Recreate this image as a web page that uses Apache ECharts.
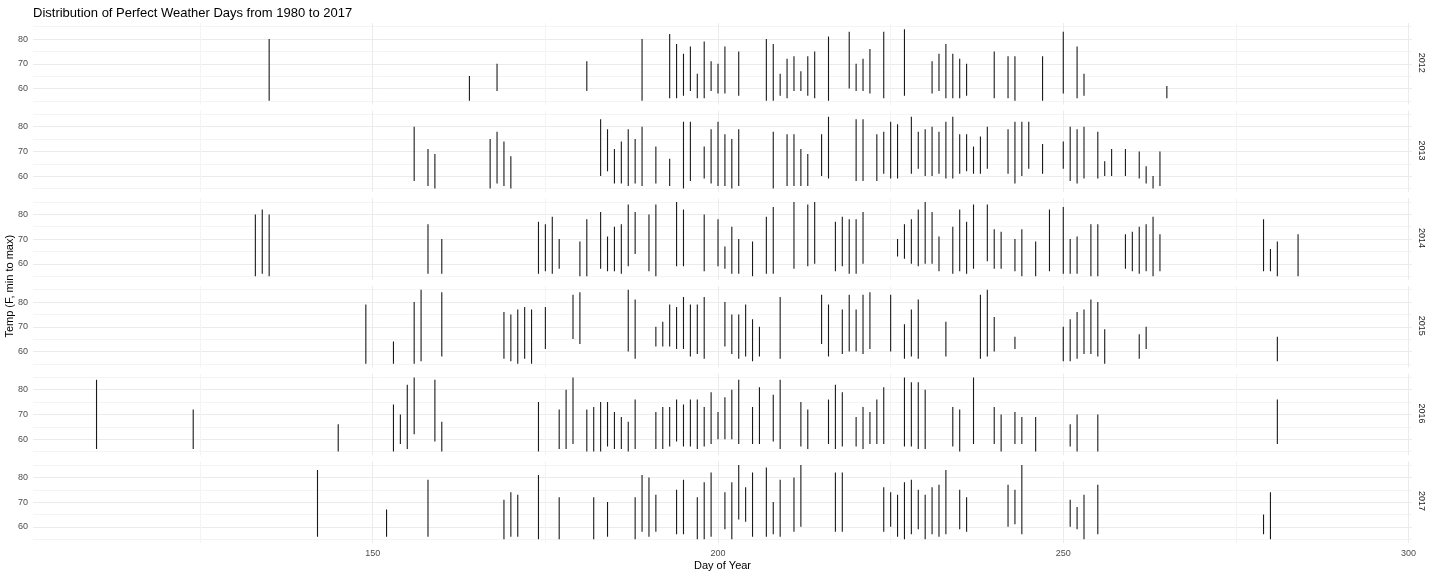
<!DOCTYPE html>
<html>
<head>
<meta charset="utf-8">
<script src="https://cdn.jsdelivr.net/npm/echarts@6/dist/echarts.min.js"></script>
<style>
html,body{margin:0;padding:0;background:#fff;}
#chart{width:1440px;height:576px;}
</style>
</head>
<body>
<div id="chart"></div>
<script>
// ---------- DATA ----------
const years = ['2012', '2013', '2014', '2015', '2016', '2017'];
const xTicks = [150, 200, 250, 300];
const yTicks = [60, 70, 80];

const days2012 = [135,164,168,181,189,193,194,195,196,197,198,199,200,201,203,207,208,209,210,211,212,213,214,216,219,220,221,222,224,227,231,232,233,234,235,236,240,242,243,247,250,252,253,265];
const min2012  = [55,55,59,59,55,56,56,57,59,56,56,59,58,58,57,55,55,57,56,59,59,57,56,55,60,59,59,58,56,57,58,59,56,56,56,57,56,56,55,55,58,56,57,56];
const max2012  = [80,65,70,71,80,82,78,74,77,66,79,71,70,77,75,80,78,66,72,73,67,73,75,81,83,70,72,76,83,84,71,74,78,74,72,70,75,73,73,73,83,77,66,61];

const days2013 = [156,158,159,167,168,169,170,183,184,185,186,187,188,189,191,193,195,196,198,199,200,201,202,203,208,210,211,212,213,215,216,220,221,223,224,225,226,228,229,230,231,232,233,234,235,236,237,238,239,242,243,244,245,247,250,251,252,253,255,256,257,259,261,262,263,264];
const min2013  = [58,56,55,55,57,56,55,60,62,57,57,56,57,56,57,56,55,58,59,57,56,56,55,56,55,56,56,56,56,60,59,58,58,58,61,59,59,61,63,60,60,61,59,59,61,62,61,61,63,61,57,60,63,61,63,58,57,59,59,60,60,60,59,57,55,56];
const max2013  = [80,71,69,75,78,74,68,83,79,71,74,79,75,80,72,67,82,82,72,79,82,77,75,79,78,77,77,71,69,77,84,83,83,77,78,82,81,84,78,79,80,78,82,84,77,77,72,76,80,79,82,82,82,73,74,80,79,80,78,66,71,71,70,64,60,70];

const days2014 = [133,134,135,158,160,174,175,176,177,180,181,183,184,185,186,187,188,190,191,194,195,198,200,201,202,203,205,207,208,211,213,214,217,218,219,220,221,226,227,228,229,230,231,232,234,235,236,237,239,240,241,243,244,246,248,250,251,252,254,255,259,260,261,262,263,264,279,280,281,284];
const min2014  = [55,56,55,56,56,56,57,56,58,55,55,58,57,57,56,59,64,57,55,59,59,57,59,58,56,56,55,56,56,58,59,60,57,59,56,56,60,63,62,60,59,60,60,57,56,57,56,58,61,58,58,57,55,55,57,56,56,56,55,55,58,57,56,57,55,57,57,57,55,55];
const max2014  = [80,82,80,76,70,77,76,79,70,69,78,81,71,75,76,84,81,80,84,85,82,80,78,67,75,70,69,79,83,85,84,85,77,79,78,78,81,70,76,78,82,85,81,71,75,82,77,84,84,74,73,70,74,69,82,83,70,71,76,76,72,73,75,76,79,72,78,66,69,72];

const days2015 = [149,153,156,157,160,169,170,171,172,173,175,179,180,187,188,191,192,193,194,195,196,197,198,201,202,203,204,205,206,209,215,216,218,219,220,221,222,225,227,228,229,233,238,239,240,243,250,251,252,253,254,255,256,261,262,281];
const min2015  = [55,55,55,56,58,57,56,55,57,55,61,65,63,60,57,62,62,62,61,61,58,59,57,62,59,57,58,56,58,57,63,58,59,60,60,59,61,60,57,58,57,58,57,58,60,61,56,56,57,59,59,58,55,57,61,56];
const max2015  = [79,64,80,85,84,76,75,77,78,77,78,83,84,85,81,70,72,79,78,82,79,79,82,80,75,75,79,73,70,82,83,79,77,83,77,83,84,83,71,77,81,72,83,85,74,66,70,73,76,77,81,80,69,67,70,66];

const days2016 = [110,124,145,153,154,155,156,159,160,174,177,178,179,181,182,183,184,185,186,187,188,191,192,193,194,195,196,197,198,199,200,201,202,203,205,206,208,209,212,213,216,217,218,220,221,222,223,224,227,228,229,230,234,235,237,240,241,243,244,246,251,252,255,281];
const min2016  = [56,56,55,55,58,56,62,59,55,55,56,56,58,55,55,55,57,56,56,55,56,56,56,57,59,57,57,56,57,58,60,60,60,58,58,58,59,56,57,56,58,56,57,57,56,58,58,58,57,57,56,56,57,55,58,58,55,58,58,55,57,55,55,58];
const max2016  = [84,72,66,74,70,82,85,84,67,75,72,80,85,72,73,75,75,71,69,67,76,71,73,73,76,74,76,76,73,79,71,77,80,84,73,81,78,84,75,72,76,82,79,69,73,71,76,81,85,83,83,80,73,72,85,73,70,71,69,69,66,70,70,76];

const days2017 = [142,152,158,169,170,171,174,177,182,184,188,189,190,191,194,195,197,198,199,201,202,203,204,205,207,208,209,211,212,217,218,224,225,226,227,228,229,230,231,232,233,235,236,242,243,244,251,252,253,255,279,280];
const min2017  = [56,56,56,55,56,56,55,55,55,56,55,58,56,58,57,57,55,55,56,59,55,63,62,56,56,57,56,58,60,58,58,58,60,56,55,57,59,55,57,56,57,59,58,60,61,57,60,59,55,57,57,55];
const max2017  = [83,67,79,71,74,73,81,72,72,70,72,81,80,73,75,79,72,78,82,74,78,85,76,82,84,70,79,80,85,82,82,76,74,73,78,79,75,73,76,77,83,75,72,77,75,85,71,68,73,77,65,74];

const yearDays = [days2012, days2013, days2014, days2015, days2016, days2017];
const yearMins = [min2012, min2013, min2014, min2015, min2016, min2017];
const yearMaxs = [max2012, max2013, max2014, max2015, max2016, max2017];

// ---------- LAYOUT ----------
const FONT = '"Liberation Sans", Arial, Helvetica, sans-serif';
const GRID_LEFT = 33, GRID_RIGHT = 28;
const PANEL_TOP = 23, PANEL_H = 81.5, PANEL_PITCH = 87.67;
const X_MIN = 100.8, X_MAX = 300.5;
const Y_MIN = 53.5, Y_MAX = 86.5;

const chart = echarts.init(document.getElementById('chart'), null, {renderer: 'canvas'});

const grids = [], xAxes = [], yAxes = [], series = [], graphics = [];

years.forEach((yr, k) => {
  const top = PANEL_TOP + k * PANEL_PITCH;
  const isLast = k === years.length - 1;
  grids.push({left: GRID_LEFT, right: GRID_RIGHT, top: top, height: PANEL_H, containLabel: false});
  xAxes.push({
    type: 'value', gridIndex: k, min: X_MIN, max: X_MAX, splitNumber: 4,
    axisLine: {show: false}, axisTick: {show: false},
    axisLabel: {
      show: isLast, color: '#4d4d4d', fontSize: 9, fontFamily: FONT, margin: 6,
      showMinLabel: false, showMaxLabel: false,
      formatter: v => (xTicks.indexOf(Math.round(v * 1000) / 1000) >= 0 ? String(v) : '')
    },
    splitLine: {show: true, showMinLine: false, showMaxLine: false, lineStyle: {color: '#ebebeb', width: 1}},
    minorTick: {show: false, splitNumber: 2},
    minorSplitLine: {show: true, lineStyle: {color: '#f4f4f4', width: 1}},
    name: isLast ? 'Day of Year' : '', nameLocation: 'middle', nameGap: 18,
    nameTextStyle: {color: '#000', fontSize: 11, fontFamily: FONT}
  });
  yAxes.push({
    type: 'value', gridIndex: k, min: Y_MIN, max: Y_MAX, splitNumber: 3,
    axisLine: {show: false}, axisTick: {show: false},
    axisLabel: {
      color: '#4d4d4d', fontSize: 9, fontFamily: FONT, margin: 5,
      showMinLabel: false, showMaxLabel: false,
      formatter: v => (yTicks.indexOf(Math.round(v * 1000) / 1000) >= 0 ? String(v) : '')
    },
    splitLine: {show: true, showMinLine: false, showMaxLine: false, lineStyle: {color: '#ebebeb', width: 1}},
    minorTick: {show: false, splitNumber: 2},
    minorSplitLine: {show: true, lineStyle: {color: '#f4f4f4', width: 1}}
  });
  const data = yearDays[k].map((d, i) => [d, yearMins[k][i], yearMaxs[k][i]]);
  series.push({
    type: 'custom', xAxisIndex: k, yAxisIndex: k, data: data, clip: true, silent: true,
    encode: {x: 0, y: [1, 2]},
    renderItem: function (params, api) {
      const p1 = api.coord([api.value(0), api.value(1)]);
      const p2 = api.coord([api.value(0), api.value(2)]);
      return {type: 'line', shape: {x1: p1[0], y1: p1[1], x2: p2[0], y2: p2[1]},
              style: {stroke: '#1a1a1a', lineWidth: 1.1}};
    }
  });
  graphics.push({
    type: 'text', left: 1440 - GRID_RIGHT + 5, top: top + PANEL_H / 2 - 11,
    rotation: -Math.PI / 2,
    style: {text: yr, fill: '#1a1a1a', font: '9px ' + FONT}
  });
});

graphics.push({
  type: 'text', left: 4, top: PANEL_TOP + (5 * PANEL_PITCH + PANEL_H) / 2 - 48,
  rotation: Math.PI / 2,
  style: {text: 'Temp (F, min to max)', fill: '#000', font: '11px ' + FONT}
});

chart.setOption({
  animation: false,
  backgroundColor: '#ffffff',
  title: {
    text: 'Distribution of Perfect Weather Days from 1980 to 2017',
    left: 28, top: 2,
    textStyle: {color: '#000', fontSize: 13, fontWeight: 'normal', fontFamily: FONT}
  },
  grid: grids, xAxis: xAxes, yAxis: yAxes, series: series, graphic: graphics
});
</script>
</body>
</html>
